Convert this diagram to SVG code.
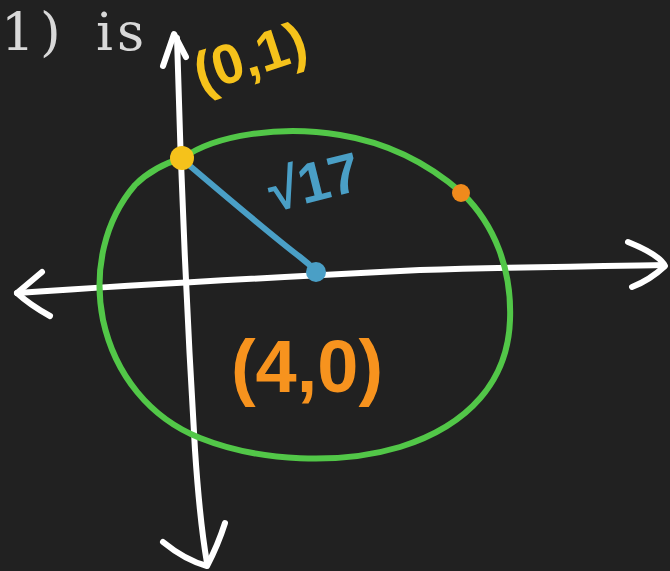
<svg xmlns="http://www.w3.org/2000/svg" width="670" height="571" viewBox="0 0 670 571">
<style>
.ax{fill:none;stroke:#ffffff;stroke-width:6;stroke-linecap:round;stroke-linejoin:round}
.hand{font-family:"Liberation Sans","DejaVu Sans",sans-serif;font-weight:bold}
</style>
<rect width="670" height="571" fill="#212121"/>
<text x="1 40 62 96 117" y="50" font-family="DejaVu Serif,serif" font-size="53" fill="#d9d9d9">1) is</text>
<g id="axes">
<path class="ax" d="M177,38 C180,150 186,300 195,450 C199,510 203,540 207,563"/>
<path class="ax" d="M163,66 L174,34 L186,57"/>
<path class="ax" d="M163,542 Q185,560 207,566 Q218,545 225,523"/>
<path class="ax" d="M17,293 C150,284 300,276 420,270 C520,267 600,266 664,265"/>
<path class="ax" d="M42,272 L17,293 Q30,305 50,316"/>
<path class="ax" d="M628,242 Q660,255 665,266 Q650,280 632,287"/>
</g>
<g id="circle">
<path d="M183,158 C215,135 280,125 340,135 C390,143 430,165 462,193 C495,225 512,270 510,320 C508,380 470,425 400,447 C340,465 260,462 200,438 C150,418 115,375 103,320 C93,270 105,220 135,185 C150,170 165,163 183,158 Z" fill="none" stroke="#52c748" stroke-width="6"/>
</g>
<g id="connectors">
<path d="M183,160 C230,200 275,238 300,257 C308,263 312,267 317,272" fill="none" stroke="#4a9fc6" stroke-width="6" stroke-linecap="round"/>
</g>
<g id="point-0-1"><circle cx="182" cy="158" r="12" fill="#f5c21b"/></g>
<g id="point-orange"><circle cx="461" cy="193" r="9" fill="#f08a1c"/></g>
<g id="point-center"><circle cx="316" cy="272" r="10" fill="#4a9fc6"/></g>
<g id="label-0-1"><text class="hand" x="250" y="76" font-size="56" fill="#f5c21b" text-anchor="middle" transform="rotate(-18 250 57)">(0,1)</text></g>
<g id="label-sqrt17"><text class="hand" x="314" y="201" font-size="56" fill="#4a9fc6" text-anchor="middle" transform="rotate(-14 314 182)">√17</text></g>
<g id="label-center"><text class="hand" x="307" y="392" font-size="74" fill="#f7931e" text-anchor="middle">(4,0)</text></g>
</svg>
